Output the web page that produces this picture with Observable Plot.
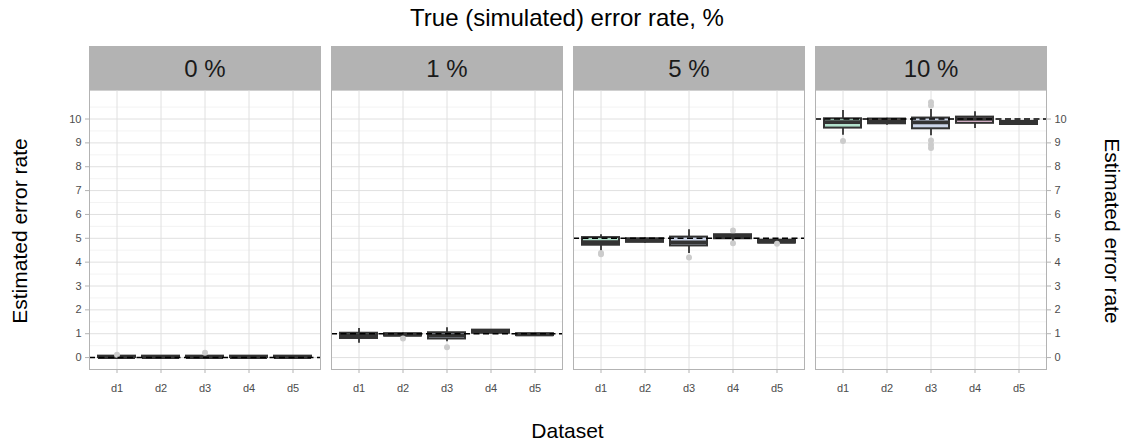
<!DOCTYPE html>
<html>
<head>
<meta charset="utf-8">
<script src="https://cdn.jsdelivr.net/npm/d3@7"></script>
<script src="https://cdn.jsdelivr.net/npm/@observablehq/plot@0.6"></script>
<style>
  html, body { margin: 0; padding: 0; background: #fff; }
  body { font-family: "Liberation Sans", Arial, sans-serif; }
  #wrap { position: relative; width: 1133px; height: 447px; overflow: hidden; }
  #title { height: 35px; line-height: 36px; text-align: center; font-size: 24px; color: #000; padding-left: 1px; }
  .ylab { position: absolute; top: 231px; font-size: 21px; color: #000; white-space: nowrap; }
  #ylabL { left: 20px; transform: translate(-50%, -50%) rotate(-90deg); }
  #ylabR { left: 1112px; transform: translate(-50%, -50%) rotate(90deg); }
  #xlab { position: absolute; top: 419px; left: 0; width: 1135px; text-align: center; font-size: 21px; color: #000; }
</style>
</head>
<body>
<div id="wrap">
  <div id="title">True (simulated) error rate, %</div>
  <div id="chart"></div>
  <div class="ylab" id="ylabL">Estimated error rate</div>
  <div class="ylab" id="ylabR">Estimated error rate</div>
  <div id="xlab">Dataset</div>
</div>
<script>
// Facets (true simulated error rate) and datasets
const rates = ["0 %", "1 %", "5 %", "10 %"];
const trueRate = [0, 1, 5, 10];
const datasets = ["d1", "d2", "d3", "d4", "d5"];
const fills = ["#b3e2cd", "#fdcdac", "#cbd5e8", "#f4cae4", "#e6f5c9"];

// Box statistics per facet (rows) and dataset (columns)
const whiskerLow = [
  [0.00, 0.00, 0.00, 0.00, 0.00],
  [0.60, 0.86, 0.66, 1.00, 0.90],
  [4.45, 4.78, 4.36, 4.86, 4.80],
  [9.32, 9.74, 9.30, 9.60, 9.75]
];
const q1 = [
  [0.00, 0.00, 0.00, 0.00, 0.00],
  [0.80, 0.90, 0.78, 1.02, 0.92],
  [4.71, 4.83, 4.68, 4.98, 4.80],
  [9.62, 9.80, 9.59, 9.82, 9.77]
];
const median = [
  [0.02, 0.02, 0.02, 0.02, 0.02],
  [0.93, 0.96, 0.93, 1.09, 0.97],
  [4.84, 4.92, 4.83, 5.07, 4.86],
  [9.87, 9.91, 9.86, 10.00, 9.84]
];
const q3 = [
  [0.06, 0.06, 0.06, 0.06, 0.06],
  [1.02, 1.00, 1.04, 1.15, 1.00],
  [5.03, 4.98, 5.05, 5.15, 4.92],
  [10.01, 10.00, 10.04, 10.08, 9.90]
];
const whiskerHigh = [
  [0.08, 0.07, 0.08, 0.07, 0.07],
  [1.22, 1.04, 1.25, 1.18, 1.02],
  [5.15, 5.02, 5.36, 5.28, 4.95],
  [10.36, 10.03, 10.40, 10.30, 9.92]
];

// Outlying estimates: facet, dataset, value
const outlierRate = ["0 %", "0 %", "1 %", "1 %", "5 %", "5 %", "5 %", "5 %", "5 %", "5 %", "10 %", "10 %", "10 %", "10 %", "10 %", "10 %"];
const outlierSet  = ["d1", "d3", "d2", "d3", "d1", "d1", "d3", "d4", "d4", "d5", "d1", "d3", "d3", "d3", "d3", "d3"];
const outlierVal  = [0.12, 0.20, 0.80, 0.43, 4.33, 4.38, 4.19, 5.33, 4.79, 4.77, 9.08, 10.57, 10.70, 9.10, 8.92, 8.78];

// Axis tick values
const majorTicks = d3.range(0, 11);
const minorTicks = d3.range(-0.5, 11, 1);

// Vertical extent of the panel area and the facet header strip (in y units)
const yBottom = -0.5, panelTop = 11.17, stripTop = 13.04;

const rows = [];
rates.forEach((rate, i) => datasets.forEach((ds, j) => rows.push({
  rate, dataset: ds,
  lo: whiskerLow[i][j], q1: q1[i][j], med: median[i][j], q3: q3[i][j], hi: whiskerHigh[i][j]
})));
const outliers = outlierVal.map((v, k) => ({rate: outlierRate[k], dataset: outlierSet[k], value: v}));
const truth = rates.map((rate, i) => ({rate, value: trueRate[i]}));

const tickStyle = {fontSize: 11, fill: "#4d4d4d", tickSize: 4, stroke: "#b3b3b3"};

const chart = Plot.plot({
  width: 1133,
  height: 370,
  marginLeft: 87,
  marginRight: 85,
  marginTop: 11,
  marginBottom: 36,
  style: {fontFamily: "Liberation Sans, Arial, sans-serif", background: "#fff", overflow: "visible"},
  fx: {domain: rates, axis: null, paddingInner: 0.045, paddingOuter: 0, label: null},
  x: {domain: datasets, type: "band", paddingInner: 0.17, paddingOuter: 0.185, axis: null, label: null},
  y: {domain: [yBottom, stripTop], axis: null, label: null},
  color: {domain: datasets, range: fills},
  marks: [
    // header strips
    Plot.rect(rates, {fx: d => d, y1: panelTop, y2: stripTop, fill: "#b3b3b3"}),
    Plot.text(rates, {fx: d => d, y: (panelTop + stripTop) / 2, text: d => d, fontSize: 24, fill: "#1a1a1a", dy: 1}),
    // grid
    Plot.ruleY(minorTicks, {y: d => d, stroke: "#f0f0f0", strokeWidth: 0.8}),
    Plot.ruleY(majorTicks, {y: d => d, stroke: "#e0e0e0", strokeWidth: 1}),
    Plot.ruleX(datasets, {x: d => d, y1: yBottom, y2: panelTop, stroke: "#e0e0e0", strokeWidth: 1}),
    // boxplots
    Plot.ruleX(rows, {fx: "rate", x: "dataset", y1: "lo", y2: "hi", stroke: "#333", strokeWidth: 1.8}),
    Plot.barY(rows, {fx: "rate", x: "dataset", y1: "q1", y2: "q3", fill: "dataset", stroke: "#333", strokeWidth: 2}),
    Plot.tickY(rows, {fx: "rate", x: "dataset", y: "med", stroke: "#333", strokeWidth: 3.6}),
    Plot.dot(outliers, {fx: "rate", x: "dataset", y: "value", r: 3, fill: "#cccccc"}),
    // true error rate
    Plot.ruleY(truth, {fx: "rate", y: "value", stroke: "#000", strokeWidth: 1.6, strokeDasharray: "6,3.5"}),
    // panel border
    Plot.frame({stroke: "#b3b3b3", strokeWidth: 1}),
    // axes
    Plot.axisY(majorTicks, {anchor: "left", ...tickStyle, tickPadding: 4, label: null}),
    Plot.axisY(majorTicks, {anchor: "right", ...tickStyle, tickPadding: 4, label: null}),
    Plot.axisX({anchor: "bottom", ...tickStyle, tickPadding: 11, label: null})
  ]
});
document.getElementById("chart").appendChild(chart);
</script>
</body>
</html>
